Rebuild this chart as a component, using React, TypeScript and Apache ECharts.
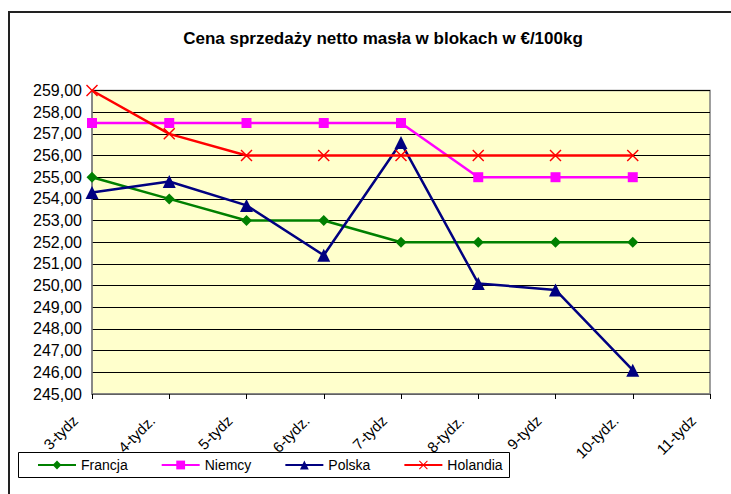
import React, { useEffect, useRef } from "react";
import * as echarts from "echarts";

const titleText = "Cena sprzedaży netto masła w blokach w €/100kg";
const categories = ["3-tydz", "4-tydz.", "5-tydz", "6-tydz.", "7-tydz", "8-tydz.", "9-tydz", "10-tydz.", "11-tydz"];
const francja = [255, 254, 253, 253, 252, 252, 252, 252, null];
const niemcy = [257.5, 257.5, 257.5, 257.5, 257.5, 255, 255, 255, null];
const polska = [254.3, 254.8, 253.7, 251.4, 256.6, 250.1, 249.8, 246.1, null];
const holandia = [259, 257, 256, 256, 256, 256, 256, 256, null];
const seriesNames = ["Francja", "Niemcy", "Polska", "Holandia"];
const yMin = 245;
const yMax = 259;
const yInterval = 1;

const xSymbol = "path://M0,1 L1,0 L6,5 L11,0 L12,1 L7,6 L12,11 L11,12 L6,7 L1,12 L0,11 L5,6 Z";

export default function App() {
  const ref = useRef<HTMLDivElement>(null);
  useEffect(() => {
    if (!ref.current) return;
    const chart = echarts.init(ref.current, undefined, { renderer: "svg" });
    const font = "'Liberation Sans', Arial, sans-serif";
    const mk = (name: string, data: (number | null)[], color: string, symbol: string, size: number) => ({
      name,
      type: "line",
      data,
      symbol,
      symbolSize: size,
      showSymbol: true,
      connectNulls: false,
      lineStyle: { color, width: 2.5 },
      itemStyle: { color },
      emphasis: { disabled: true },
    });
    chart.setOption({
      animation: false,
      backgroundColor: "#ffffff",
      textStyle: { fontFamily: font },
      grid: { left: 92, right: 21, top: 90.5, bottom: 100, containLabel: false, show: true, backgroundColor: "#FFFFCC", borderColor: "#808080", borderWidth: 1.5 },
      graphic: [
        { type: "rect", z: -10, shape: { x: 9, y: 12, width: 800, height: 600 }, style: { fill: "none", stroke: "#222", lineWidth: 2 } },
        { type: "text", x: 383, y: 38, style: { text: titleText, textAlign: "center", textVerticalAlign: "middle", font: "bold 17px 'Liberation Sans', Arial, sans-serif", fill: "#000" } },
        { type: "rect", z: 1, shape: { x: 18.5, y: 452.5, width: 491, height: 25 }, style: { fill: "#fff", stroke: "#000", lineWidth: 1 } },
      ],
      legend: {
        data: seriesNames,
        left: 37,
        top: 458,
        itemWidth: 38,
        itemHeight: 11,
        itemGap: 33,
        padding: 0,
        z: 5,
        textStyle: { fontSize: 14, color: "#000", fontFamily: font },
      },
      xAxis: {
        type: "category",
        data: categories,
        boundaryGap: false,
        axisLine: { lineStyle: { color: "#808080", width: 1.5 } },
        axisTick: { show: true, alignWithLabel: true, length: 5, lineStyle: { color: "#000" } },
        axisLabel: { interval: 0, rotate: 45, margin: 7, padding: [0, 24, 0, 0], fontSize: 15, color: "#000", fontFamily: font },
        splitLine: { show: false },
      },
      yAxis: {
        type: "value",
        min: yMin,
        max: yMax,
        interval: yInterval,
        axisLine: { show: true, lineStyle: { color: "#808080", width: 1.5 } },
        axisTick: { show: false },
        axisLabel: { margin: 10, fontSize: 16, color: "#000", fontFamily: font, formatter: (v: number) => v.toFixed(2).replace(".", ",") },
        splitLine: { show: true, lineStyle: { color: "#000", width: 1 } },
      },
      series: [
        mk(seriesNames[0], francja, "#008000", "diamond", 11),
        mk(seriesNames[1], niemcy, "#FF00FF", "rect", 10),
        mk(seriesNames[2], polska, "#000080", "triangle", 13),
        mk(seriesNames[3], holandia, "#FF0000", xSymbol, 12),
      ],
    });
    return () => chart.dispose();
  }, []);
  return <div ref={ref} style={{ position: "fixed", left: 0, top: 0, width: 731, height: 494 }} />;
}
